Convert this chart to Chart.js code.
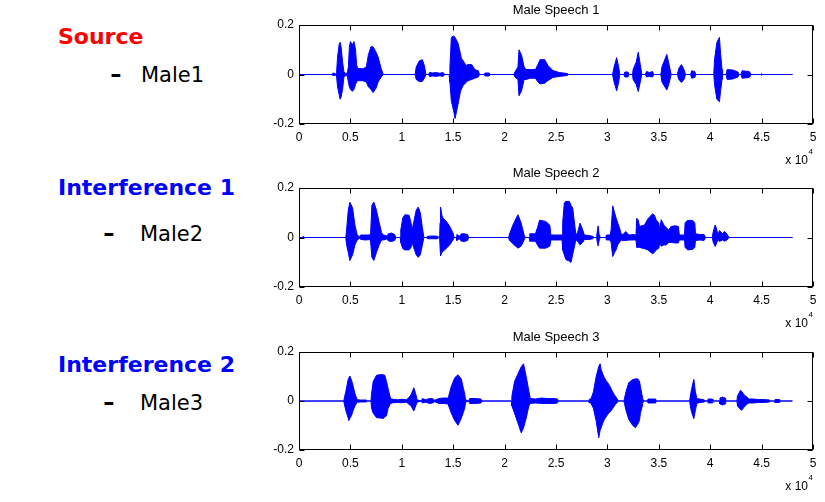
<!DOCTYPE html>
<html><head><meta charset="utf-8">
<script src="https://cdn.jsdelivr.net/npm/chart.js@4/dist/chart.umd.min.js"></script>
<style>
html,body{margin:0;padding:0;background:#fff;width:825px;height:502px;overflow:hidden;position:relative;}
.lbl{position:absolute;white-space:nowrap;font-family:"DejaVu Sans",sans-serif;line-height:1;}
.h{font-weight:bold;font-size:22px;}
.s{font-size:21px;color:#000;}
.d{transform:scaleX(1.35);transform-origin:left center;font-weight:bold;}
.box{position:absolute;left:240px;width:585px;}
</style></head><body>
<div class="lbl h" style="left:58px;top:26px;color:#ff0000">Source</div>
<div class="lbl s d" style="left:110px;top:65px">-</div>
<div class="lbl s" style="left:141px;top:65px">Male1</div>
<div class="lbl h" style="left:58px;top:177px;color:#0000ff">Interference 1</div>
<div class="lbl s d" style="left:103px;top:224px">-</div>
<div class="lbl s" style="left:140px;top:224px">Male2</div>
<div class="lbl h" style="left:58px;top:354px;color:#0000ff">Interference 2</div>
<div class="lbl s d" style="left:103px;top:393px">-</div>
<div class="lbl s" style="left:140px;top:393px">Male3</div>

<div class="box" style="top:0px;height:165px"><canvas id="c1" width="585" height="165"></canvas></div>
<div class="box" style="top:163px;height:165px"><canvas id="c2" width="585" height="165"></canvas></div>
<div class="box" style="top:327px;height:164px"><canvas id="c3" width="585" height="164"></canvas></div>

<script>
// Tick values (x in units of 10^4 samples)
const xTickValues = [0,0.5,1,1.5,2,2.5,3,3.5,4,4.5,5];
const yTickValues = [-0.2,0,0.2];
const titles = ["Male Speech 1","Male Speech 2","Male Speech 3"];

// Waveform envelopes: [sample (x10^4), upper, lower]
const male1Env = [
[0,0,0],[0.32,0,0],[0.33,0.006,-0.004],[0.35,0.004,-0.004],[0.36,0,0],
[0.366,0.01,-0.01],[0.375,0.07,-0.05],[0.39,0.12,-0.08],[0.40,0.13,-0.10],[0.41,0.11,-0.09],[0.424,0.05,-0.06],[0.437,0.01,-0.01],
[0.45,0.005,-0.005],[0.47,0.005,-0.005],
[0.48,0.03,-0.03],[0.49,0.11,-0.05],[0.50,0.133,-0.06],[0.52,0.12,-0.068],[0.535,0.133,-0.06],[0.55,0.10,-0.04],[0.56,0.04,-0.03],[0.57,0.025,-0.025],[0.62,0.023,-0.025],[0.655,0.03,-0.03],
[0.675,0.08,-0.05],[0.70,0.112,-0.06],[0.72,0.112,-0.073],[0.75,0.09,-0.055],[0.77,0.07,-0.03],[0.80,0.023,-0.01],[0.82,0,0],
[1.13,0,0],[1.14,0.03,-0.02],[1.17,0.055,-0.029],[1.20,0.06,-0.028],[1.22,0.035,-0.015],[1.235,0,0],
[1.26,0,0],[1.27,0.008,-0.008],[1.30,0.006,-0.006],[1.33,0.008,-0.008],[1.37,0.005,-0.005],[1.40,0.008,-0.008],[1.42,0,0],
[1.46,0,0],[1.468,0.03,-0.03],[1.482,0.15,-0.107],[1.505,0.156,-0.148],[1.518,0.15,-0.178],[1.547,0.126,-0.12],[1.57,0.085,-0.07],[1.58,0.065,-0.059],[1.595,0.057,-0.045],[1.612,0.045,-0.038],[1.628,0.037,-0.03],[1.644,0.04,-0.025],[1.68,0.04,-0.02],[1.71,0.02,-0.015],[1.745,0.015,-0.01],[1.755,0,0],
[1.80,0,0],[1.81,0.006,-0.006],[1.85,0.006,-0.006],[1.86,0,0],
[2.09,0,0],[2.10,0.01,-0.01],[2.13,0.03,-0.02],[2.14,0.1,-0.086],[2.165,0.078,-0.066],[2.19,0.03,-0.02],[2.21,0.02,-0.02],[2.25,0.02,-0.015],[2.30,0.02,-0.015],
[2.324,0.04,-0.03],[2.345,0.06,-0.038],[2.39,0.06,-0.035],[2.42,0.037,-0.025],[2.47,0.016,-0.012],[2.53,0.008,-0.008],[2.61,0.004,-0.004],[2.62,0,0],
[3.05,0,0],[3.065,0.03,-0.03],[3.09,0.068,-0.066],[3.11,0.03,-0.03],[3.12,0,0],
[3.16,0,0],[3.17,0.01,-0.01],[3.20,0.01,-0.01],[3.21,0,0],
[3.245,0,0],[3.25,0.02,-0.02],[3.28,0.05,-0.04],[3.30,0.09,-0.069],[3.32,0.04,-0.03],[3.335,0,0],
[3.37,0,0],[3.38,0.012,-0.01],[3.41,0.008,-0.008],[3.44,0.012,-0.01],[3.45,0,0],
[3.52,0,0],[3.53,0.03,-0.03],[3.578,0.081,-0.063],[3.60,0.04,-0.035],[3.62,0,0],
[3.68,0,0],[3.695,0.025,-0.02],[3.72,0.04,-0.032],[3.745,0.02,-0.02],[3.76,0,0],
[3.81,0,0],[3.82,0.015,-0.015],[3.85,0.012,-0.012],[3.86,0,0],
[4.035,0,0],[4.042,0.06,-0.04],[4.065,0.13,-0.1],[4.09,0.15,-0.11],[4.10,0.09,-0.07],[4.115,0.02,-0.02],[4.12,0,0],
[4.155,0,0],[4.165,0.02,-0.02],[4.22,0.018,-0.018],[4.27,0.01,-0.01],[4.28,0,0],[4.30,0,0],[4.31,0.015,-0.015],[4.38,0.012,-0.012],[4.40,0,0],
[4.49,0,0],[4.50,0.003,-0.003],[4.51,0,0],
[4.80,0,0]
];

const male2Env = [
[0,0,0],[0.035,0,0],[0.04,0.004,-0.004],[0.045,0,0],
[0.455,0,0],[0.463,0.03,-0.03],[0.479,0.11,-0.06],[0.495,0.142,-0.093],[0.521,0.12,-0.07],[0.544,0.05,-0.03],[0.566,0.01,-0.01],
[0.59,0.003,-0.003],[0.60,0.01,-0.008],[0.65,0.01,-0.01],[0.69,0.01,-0.008],
[0.697,0.02,-0.02],[0.709,0.13,-0.08],[0.728,0.143,-0.093],[0.754,0.11,-0.06],[0.78,0.06,-0.03],[0.803,0.02,-0.01],
[0.82,0.01,-0.01],[0.845,0.008,-0.008],[0.855,0.005,-0.005],[0.87,0.015,-0.014],[0.90,0.018,-0.016],[0.93,0.012,-0.012],[0.94,0.003,-0.003],[0.95,0,0],
[0.985,0,0],[0.99,0.03,-0.02],[1.01,0.08,-0.045],[1.03,0.092,-0.05],[1.07,0.09,-0.05],[1.09,0.06,-0.04],[1.10,0.03,-0.02],
[1.115,0.06,-0.04],[1.14,0.11,-0.07],[1.16,0.123,-0.08],[1.18,0.1,-0.07],[1.20,0.04,-0.03],[1.215,0,0],
[1.24,0,0],[1.25,0.005,-0.005],[1.30,0.006,-0.005],[1.35,0.005,-0.005],[1.36,0,0],
[1.368,0,0],[1.372,0.06,-0.04],[1.377,0.123,-0.074],[1.39,0.09,-0.06],[1.401,0.078,-0.057],[1.434,0.065,-0.043],[1.466,0.045,-0.03],[1.498,0.018,-0.01],[1.51,0,0],
[1.53,0,0],[1.535,0.012,-0.012],[1.56,0.005,-0.005],[1.58,0.015,-0.015],[1.61,0.015,-0.016],[1.64,0.012,-0.012],[1.65,0,0],
[2.04,0,0],[2.045,0.01,-0.01],[2.08,0.05,-0.025],[2.13,0.092,-0.043],[2.16,0.06,-0.035],[2.19,0.01,-0.01],[2.20,0,0],
[2.24,0,0],[2.245,0.015,-0.015],[2.30,0.015,-0.015],
[2.32,0.04,-0.03],[2.34,0.07,-0.043],[2.40,0.065,-0.043],[2.44,0.05,-0.035],[2.45,0.01,-0.01],
[2.50,0.01,-0.01],[2.56,0.01,-0.01],
[2.565,0.06,-0.05],[2.581,0.14,-0.07],[2.597,0.146,-0.09],[2.63,0.146,-0.095],[2.646,0.13,-0.101],[2.662,0.12,-0.07],[2.688,0.03,-0.02],[2.695,0.01,-0.01],
[2.71,0.02,-0.015],[2.734,0.058,-0.03],[2.76,0.03,-0.02],[2.776,0.01,-0.008],
[2.82,0.008,-0.008],[2.857,0.005,-0.005],[2.87,0,0],
[2.895,0,0],[2.90,0.02,-0.015],[2.91,0.047,-0.034],[2.92,0.01,-0.01],[2.925,0,0],
[2.985,0,0],[2.99,0.01,-0.01],[3.025,0.01,-0.01],
[3.036,0.03,-0.02],[3.052,0.128,-0.077],[3.07,0.1,-0.06],[3.084,0.08,-0.05],[3.10,0.06,-0.03],[3.117,0.04,-0.02],[3.133,0.015,-0.01],
[3.15,0.012,-0.012],[3.18,0.024,-0.012],[3.21,0.01,-0.01],[3.25,0.012,-0.01],[3.278,0.01,-0.01],
[3.285,0.078,-0.04],[3.30,0.07,-0.04],[3.312,0.045,-0.04],[3.36,0.05,-0.045],[3.393,0.075,-0.05],[3.44,0.096,-0.066],[3.458,0.09,-0.06],[3.474,0.072,-0.05],[3.50,0.058,-0.043],
[3.51,0.03,-0.02],[3.523,0.072,-0.035],[3.55,0.05,-0.03],[3.571,0.04,-0.03],[3.597,0.03,-0.02],
[3.62,0.045,-0.02],[3.66,0.047,-0.022],[3.69,0.045,-0.022],[3.70,0.01,-0.01],
[3.75,0.01,-0.01],[3.756,0.06,-0.04],[3.78,0.069,-0.05],[3.83,0.069,-0.048],[3.85,0.06,-0.04],[3.857,0.015,-0.012],
[3.90,0.012,-0.01],[3.94,0.012,-0.012],[3.955,0,0],
[4.02,0,0],[4.03,0.025,-0.02],[4.049,0.051,-0.036],[4.065,0.03,-0.02],[4.075,0.01,-0.008],
[4.09,0.028,-0.016],[4.12,0.015,-0.01],[4.14,0.025,-0.015],[4.17,0.01,-0.008],[4.18,0,0],
[4.80,0,0]
];

const male3Env = [
[0,0,0],
[0.435,0,0],[0.44,0.01,-0.01],[0.456,0.04,-0.04],[0.479,0.09,-0.07],[0.485,0.095,-0.079],[0.495,0.102,-0.07],[0.511,0.085,-0.06],[0.521,0.07,-0.045],[0.544,0.03,-0.02],[0.566,0.005,-0.005],
[0.60,0.004,-0.004],[0.657,0.004,-0.004],[0.665,0,0],
[0.70,0,0],[0.706,0.03,-0.03],[0.722,0.08,-0.05],[0.754,0.105,-0.068],[0.803,0.108,-0.07],[0.819,0.107,-0.072],[0.835,0.105,-0.065],[0.851,0.08,-0.06],[0.867,0.05,-0.03],[0.89,0.01,-0.01],
[0.916,0.007,-0.007],[0.96,0.005,-0.006],[1.0,0.007,-0.007],[1.045,0.005,-0.005],
[1.06,0.01,-0.01],[1.09,0.025,-0.02],[1.117,0.054,-0.041],[1.135,0.03,-0.02],[1.149,0.005,-0.005],
[1.19,0,0],[1.20,0.01,-0.008],[1.23,0.005,-0.005],[1.27,0.01,-0.01],[1.30,0.01,-0.008],[1.32,0.003,-0.003],
[1.36,0.01,-0.01],[1.40,0.012,-0.01],[1.45,0.012,-0.012],
[1.456,0.02,-0.02],[1.482,0.06,-0.05],[1.515,0.095,-0.08],[1.547,0.107,-0.099],[1.579,0.09,-0.07],[1.60,0.05,-0.045],[1.612,0.03,-0.03],[1.62,0.005,-0.005],
[1.65,0,0],[1.66,0.01,-0.01],[1.72,0.01,-0.01],[1.77,0.008,-0.008],[1.78,0,0],
[2.065,0,0],[2.071,0.02,-0.02],[2.097,0.08,-0.05],[2.129,0.11,-0.09],[2.162,0.14,-0.13],[2.184,0.152,-0.11],[2.21,0.1,-0.07],[2.236,0.04,-0.02],
[2.25,0.01,-0.01],[2.30,0.008,-0.008],[2.36,0.012,-0.01],[2.42,0.01,-0.01],[2.48,0.01,-0.01],[2.515,0.008,-0.008],[2.52,0,0],
[2.815,0,0],[2.82,0.005,-0.005],[2.841,0.01,-0.01],[2.864,0.037,-0.03],[2.89,0.098,-0.08],[2.916,0.141,-0.15],[2.929,0.152,-0.12],[2.938,0.13,-0.11],[2.955,0.11,-0.09],[2.971,0.095,-0.075],[2.987,0.084,-0.065],[3.003,0.075,-0.055],[3.019,0.064,-0.047],[3.036,0.05,-0.04],[3.052,0.037,-0.03],[3.068,0.025,-0.02],[3.084,0.016,-0.01],[3.10,0.005,-0.005],[3.105,0,0],
[3.16,0,0],[3.166,0.01,-0.01],[3.182,0.04,-0.04],[3.208,0.075,-0.075],[3.247,0.088,-0.1],[3.273,0.09,-0.109],[3.295,0.091,-0.095],[3.312,0.08,-0.08],[3.321,0.06,-0.05],[3.334,0.03,-0.03],[3.344,0.01,-0.01],[3.35,0,0],
[3.39,0,0],[3.395,0.008,-0.008],[3.47,0.008,-0.008],[3.475,0,0],
[3.80,0,0],[3.81,0.03,-0.03],[3.83,0.07,-0.06],[3.841,0.088,-0.072],[3.855,0.04,-0.04],[3.87,0.01,-0.01],
[3.90,0.008,-0.006],[3.945,0.004,-0.004],[3.95,0,0],
[3.975,0,0],[3.98,0.008,-0.008],[4.02,0.008,-0.008],[4.026,0,0],
[4.088,0,0],[4.095,0.012,-0.012],[4.12,0.016,-0.016],[4.145,0.012,-0.012],[4.15,0,0],
[4.26,0,0],[4.265,0.02,-0.02],[4.295,0.044,-0.035],[4.305,0.04,-0.038],[4.33,0.025,-0.025],[4.36,0.015,-0.012],[4.377,0.008,-0.008],
[4.42,0.008,-0.008],[4.47,0.006,-0.006],[4.52,0.006,-0.006],[4.578,0.004,-0.004],[4.585,0,0],
[4.625,0,0],[4.63,0.006,-0.006],[4.675,0.006,-0.006],[4.68,0,0],
[4.80,0,0]
];

const FONT = '"Liberation Sans", Arial, sans-serif';

const framePlugin = {
  id: 'frame',
  afterDraw(chart) {
    const {ctx, chartArea: a, scales: {x, y}} = chart;
    ctx.save();
    ctx.strokeStyle = '#000';
    ctx.lineWidth = 1;
    const L = Math.round(a.left) + 0.5, R = Math.round(a.right) - 0.5;
    const T = Math.round(a.top) + 0.5, B = Math.round(a.bottom) - 0.5;
    ctx.strokeRect(L, T, R - L, B - T);
    ctx.beginPath();
    x.ticks.forEach(t => {
      const px = Math.round(x.getPixelForValue(t.value)) + 0.5;
      ctx.moveTo(px, B); ctx.lineTo(px, B - 5);
      ctx.moveTo(px, T); ctx.lineTo(px, T + 5);
    });
    y.ticks.forEach(t => {
      const py = Math.round(y.getPixelForValue(t.value)) + 0.5;
      ctx.moveTo(L, py); ctx.lineTo(L + 5, py);
      ctx.moveTo(R, py); ctx.lineTo(R - 5, py);
    });
    ctx.stroke();
    ctx.fillStyle = '#000';
    ctx.textBaseline = 'middle';
    ctx.font = '12px ' + FONT;
    ctx.textAlign = 'right';
    ctx.fillText('x 10', a.right - 5, a.bottom + 36.5);
    ctx.font = '8px ' + FONT;
    ctx.textAlign = 'left';
    ctx.fillText('4', a.right - 4.5, a.bottom + 28);
    ctx.restore();
  }
};

function makeChart(id, env, title) {
  const hi = env.map(p => ({x: p[0], y: p[1]}));
  const lo = env.map(p => ({x: p[0], y: p[2]}));
  return new Chart(document.getElementById(id), {
    type: 'line',
    data: {
      datasets: [
        {data: hi, borderColor: '#0000ff', backgroundColor: '#0000ff', borderWidth: 1, pointRadius: 0, tension: 0, fill: '+1'},
        {data: lo, borderColor: '#0000ff', backgroundColor: '#0000ff', borderWidth: 1, pointRadius: 0, tension: 0, fill: false}
      ]
    },
    options: {
      responsive: false,
      animation: false,
      events: [],
      layout: {padding: {left: 0, right: 12, top: 0, bottom: 0}},
      plugins: {
        legend: {display: false},
        tooltip: {enabled: false},
        title: {display: true, text: title, fullSize: false, color: '#000',
                font: {family: FONT, size: 13, weight: 'normal'}, padding: {top: 2.5, bottom: 6.9}}
      },
      scales: {
        x: {
          type: 'linear', min: 0, max: 5,
          afterBuildTicks: s => { s.ticks = xTickValues.map(v => ({value: v})); },
          afterFit: s => { s.height = 41; },
          grid: {display: false, drawTicks: false},
          border: {display: false},
          ticks: {color: '#000', font: {family: FONT, size: 12}, padding: 6, maxRotation: 0, autoSkip: false,
                  callback: v => String(v)}
        },
        y: {
          type: 'linear', min: -0.2, max: 0.2,
          afterBuildTicks: s => { s.ticks = yTickValues.map(v => ({value: v})); },
          afterFit: s => { s.width = 59; },
          grid: {display: false, drawTicks: false},
          border: {display: false},
          ticks: {color: '#000', font: {family: FONT, size: 12}, padding: 5,
                  callback: v => String(v)}
        }
      }
    },
    plugins: [framePlugin]
  });
}

makeChart('c1', male1Env, titles[0]);
makeChart('c2', male2Env, titles[1]);
makeChart('c3', male3Env, titles[2]);
</script>
</body></html>
